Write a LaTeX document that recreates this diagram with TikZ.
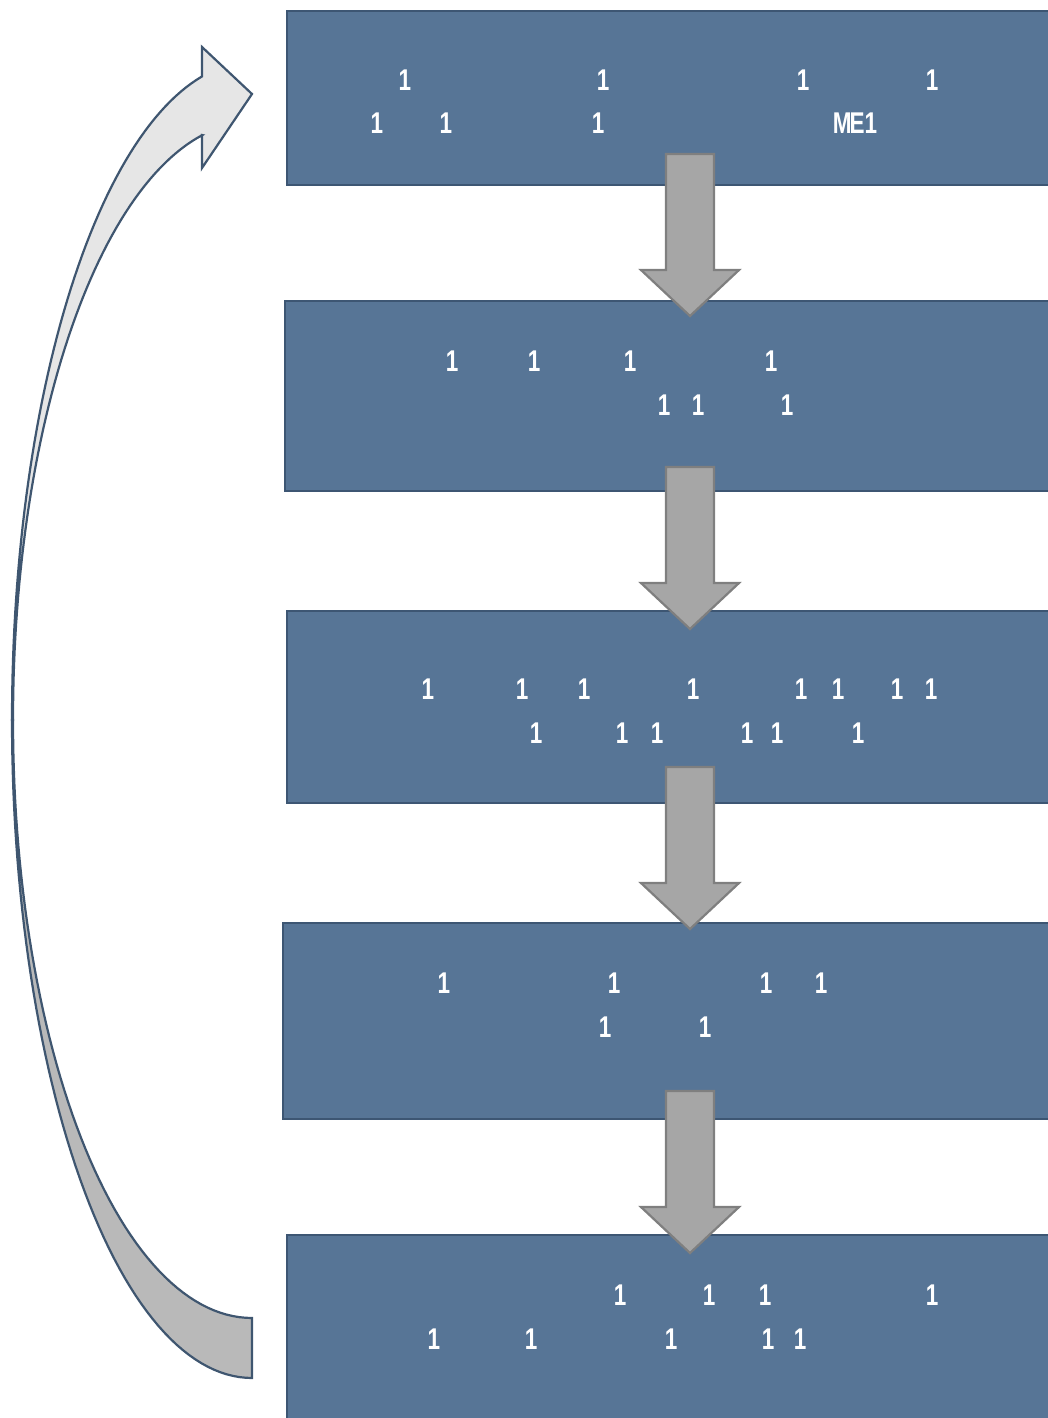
\documentclass[tikz,border=0pt]{standalone}
\usepackage{fontspec}
\usepackage{tikz}
\usetikzlibrary{positioning,calc}
\newfontfamily\stagefont[FakeStretch=0.75]{Liberation Sans}
\definecolor{stagefill}{HTML}{577596}
\definecolor{stageedge}{HTML}{3D5673}
\definecolor{downfill}{HTML}{A6A6A6}
\definecolor{downedge}{HTML}{7F7F7F}
\definecolor{loopedge}{HTML}{3F5670}
\definecolor{looplight}{HTML}{E6E6E6}
\definecolor{loopdark}{HTML}{B9B9B9}
\tikzset{
  stage/.style    = {rectangle, draw=stageedge, fill=stagefill, line width=2.2pt,
                     anchor=north west, inner sep=0pt},
  lbl/.style      = {text=white, font=\stagefont\bfseries\fontsize{30}{30}\selectfont,
                     inner sep=0pt},
  blockdown/.style = {draw=downedge, fill=downfill, line width=2.2pt, line join=miter},
  loopband/.style = {draw=loopedge, line width=2.2pt, line join=miter},
}

\begin{document}
\begin{tikzpicture}[x=1pt, y=-1pt]
  \clip (0,0) rectangle (1048,1418);

  % stages
  \node[stage, minimum width=780pt, minimum height=174pt] (s1) at (286,10) {};
  \node[stage, minimum width=780pt, minimum height=190pt] (s2) at (284,300) {};
  \node[stage, minimum width=780pt, minimum height=192pt] (s3) at (286,610) {};
  \node[stage, minimum width=780pt, minimum height=196pt] (s4) at (282,922) {};
  \node[stage, minimum width=780pt, minimum height=200pt] (s5) at (286,1234) {};

  % labels
  \foreach \x/\y/\t [count=\i] in {
      405/80/1, 603/80/1, 803/80/1, 932/80/1,
      377/123/1, 446/123/1, 598/123/1, 855/123/{M\kern-2ptE1},
      452/361/1, 534/361/1, 630/361/1, 771/361/1,
      664/405/1, 698/405/1, 787/405/1,
      428/689/1, 522/689/1, 584/689/1, 693/689/1, 801/689/1, 838/689/1, 897/689/1, 931/689/1,
      536/733/1, 622/733/1, 657/733/1, 747/733/1, 777/733/1, 858/733/1,
      444/983/1, 614/983/1, 766/983/1, 821/983/1,
      605/1027/1, 705/1027/1,
      620/1295/1, 709/1295/1, 765/1295/1, 932/1295/1,
      434/1339/1, 531/1339/1, 671/1339/1, 768/1339/1, 800/1339/1}
    \node[lbl] (t\i) at (\x,\y) {\t};

  % arrows between stages
  \foreach \top in {154,467,767,1091}
    \draw[blockdown] (666,\top) -- ++(48,0) -- ++(0,116) -- ++(25,0)
      -- ++(-49,46) -- ++(-49,-46) -- ++(25,0) -- cycle;

  % loop back arrow
  \draw[loopband, fill=loopdark]
    plot[domain=180:90, samples=60, variable=\t] ({252+240*cos(\t)},{720+658*sin(\t)})
    -- (252,1318)
    -- plot[domain=90:180, samples=60, variable=\t] ({252+239*cos(\t)},{720+598*sin(\t)})
    -- cycle;
  \draw[loopband, fill=looplight]
    plot[domain=180:258, samples=60, variable=\t] ({252+240*cos(\t)},{720+658*sin(\t)})
    -- (202,47) -- (252,94) -- (202,168) -- (202,135)
    -- plot[domain=258:180, samples=60, variable=\t] ({252+239*cos(\t)},{720+598*sin(\t)})
    -- cycle;
\end{tikzpicture}
\end{document}
